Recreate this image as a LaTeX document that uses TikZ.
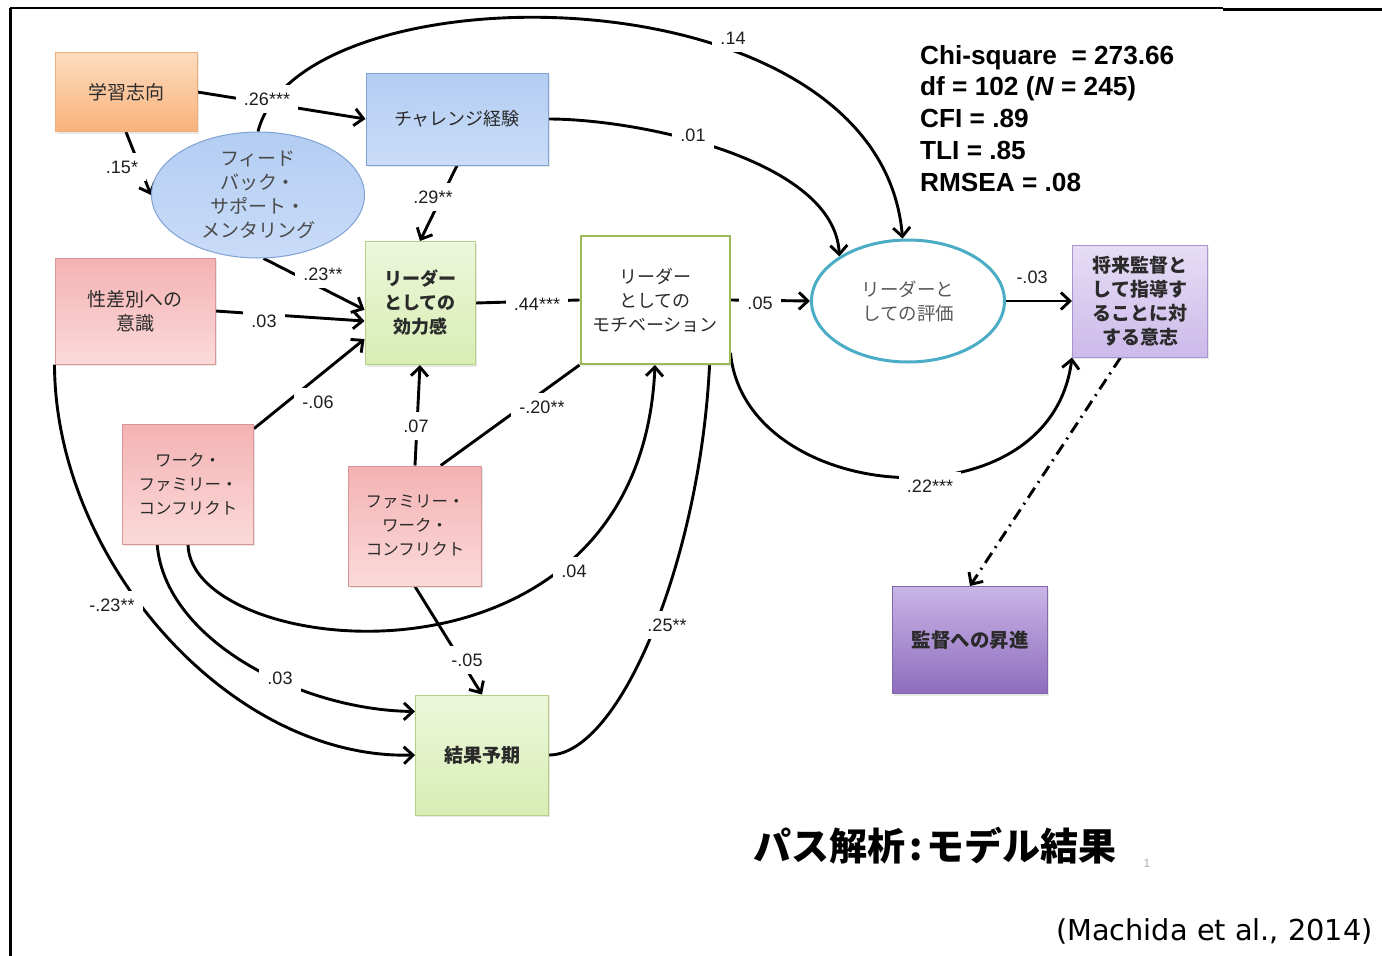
\documentclass[tikz,border=0pt]{standalone}
\usepackage{fontspec}
\setmainfont{Liberation Sans}
\newfontfamily\jpfont{Noto Sans CJK JP}
\newfontfamily\citefont{DejaVu Sans}
\usetikzlibrary{shapes.geometric,arrows.meta,backgrounds,shadows}

\definecolor{orangeT}{HTML}{FDDCBD}
\definecolor{orangeB}{HTML}{F8B27C}
\definecolor{orangeD}{HTML}{F0AE7A}
\definecolor{blueT}{HTML}{B3CDF2}
\definecolor{blueB}{HTML}{C9DCF8}
\definecolor{blueD}{HTML}{7FA2D4}
\definecolor{pinkT}{HTML}{F4B2B2}
\definecolor{pinkB}{HTML}{FBDADA}
\definecolor{pinkD}{HTML}{D99696}
\definecolor{greenT}{HTML}{EDF7DB}
\definecolor{greenB}{HTML}{D8EDB4}
\definecolor{greenD}{HTML}{B3CF88}
\definecolor{motD}{HTML}{9BBB59}
\definecolor{evalD}{HTML}{4BACC6}
\definecolor{lavT}{HTML}{E6DDF5}
\definecolor{lavB}{HTML}{CCBAEA}
\definecolor{lavD}{HTML}{A893CF}
\definecolor{purpT}{HTML}{C9B5E7}
\definecolor{purpB}{HTML}{8E6CBD}
\definecolor{purpD}{HTML}{8068AA}
\definecolor{textgray}{HTML}{2A2A2A}
\definecolor{coefgray}{HTML}{1E1E1E}
\definecolor{pagegray}{HTML}{B0B0B0}

\tikzset{
  jp/.style={font=\jpfont\fontsize{#1}{24}\selectfont},
  jpb/.style={font=\jpfont\bfseries\fontsize{#1}{24}\selectfont},
  boxsize/.style 2 args={minimum width=#1pt, minimum height=#2pt},
  box/.style={rectangle, draw, line width=1pt, align=center, inner sep=2pt,
    text=textgray, jp=19,
    drop shadow={shadow xshift=1.5pt, shadow yshift=-2pt, opacity=.18}},
  orangebox/.style={box, draw=orangeD, top color=orangeT, bottom color=orangeB},
  bluebox/.style={box, draw=blueD, top color=blueT, bottom color=blueB},
  pinkbox/.style={box, draw=pinkD, top color=pinkT, bottom color=pinkB},
  greenbox/.style={box, draw=greenD, top color=greenT, bottom color=greenB},
  lavbox/.style={box, draw=lavD, top color=lavT, bottom color=lavB},
  purplebox/.style={box, draw=purpD, top color=purpT, bottom color=purpB},
  motbox/.style={box, draw=motD, line width=2pt, fill=white, drop shadow={opacity=0}},
  fbell/.style={ellipse, draw=blueD, line width=1pt, top color=blueT, bottom color=blueB,
    minimum width=213pt, minimum height=126pt, inner sep=0pt, align=center,
    text=textgray!85, jp=19},
  evalell/.style={ellipse, draw=evalD, line width=3pt, fill=white,
    minimum width=193pt, minimum height=122pt, inner sep=0pt, align=center,
    text=black!65, jp=18.5},
  coef/.style={fill=white, inner sep=8pt, text=coefgray, font=\fontsize{18}{20}\selectfont},
  conn/.style={line width=2.9pt},
  dashdotline/.style={dash pattern=on 12pt off 6pt on 2pt off 6pt},
  >={Straight Barb[length=9pt,width=17pt]},
}

\begin{document}
\begin{tikzpicture}[x=1pt, y=1pt]
  \useasboundingbox (0,0) rectangle (1382,-956);
  % frame
  \draw[line width=3pt] (10,-956) -- (10,-8);
  \draw[line width=2pt] (10,-8) -- (1223,-8);
  \draw[line width=3pt] (1223,-9) -- (1382,-9);

  % variables
  \node[orangebox, boxsize={142}{79}] (learn) at (126,-92) {学習志向};
  \node[bluebox, boxsize={182}{92}, jp=18] (chal) at (457,-119) {チャレンジ経験};
  \node[fbell] (fb) at (258,-195) {フィード\\バック・\\サポート・\\メンタリング};
  \node[pinkbox, boxsize={160}{106}] (gen) at (135,-311) {性差別への\\意識};
  \node[greenbox, boxsize={110}{123}, jpb=18] (eff) at (420,-303) {リーダー\\としての\\効力感};
  \node[motbox, boxsize={149}{128}, jp=18] (mot) at (655,-300) {リーダー\\としての\\モチベーション};
  \node[evalell] (eval) at (908,-301) {リーダーと\\しての評価};
  \node[lavbox, boxsize={135}{112}, jpb=19] (will) at (1140,-301) {将来監督と\\して指導す\\ることに対\\する意志};
  \node[pinkbox, boxsize={131}{120}, jp=16.5] (wfc) at (188,-484) {ワーク・\\ファミリー・\\コンフリクト};
  \node[pinkbox, boxsize={133}{120}, jp=16.5] (fwc) at (415,-526) {ファミリー・\\ワーク・\\コンフリクト};
  \node[greenbox, boxsize={133}{120}, jpb=19] (res) at (482,-755) {結果予期};
  \node[purplebox, boxsize={155}{107}, jpb=19.5] (promo) at (970,-640) {監督への昇進};

  % coefficients
  \node[coef] (l26) at (267,-99) {.26***};
  \node[coef] (l15) at (122,-167) {.15*};
  \node[coef] (l14) at (733,-38) {.14};
  \node[coef] (l01) at (693,-135) {.01};
  \node[coef] (l29) at (433,-197) {.29**};
  \node[coef] (l23) at (323,-274) {.23**};
  \node[coef] (l03a) at (264,-321) {.03};
  \node[coef] (l44) at (537,-304) {.44***};
  \node[coef] (l05) at (760,-303) {.05};
  \node[coef] (l03c) at (1032,-277) {-.03};
  \node[coef] (l06) at (318,-402) {-.06};
  \node[coef] (l07) at (416,-426) {.07};
  \node[coef] (l20) at (542,-407) {-.20**};
  \node[coef] (l22) at (930,-486) {.22***};
  \node[coef] (l04) at (574,-571) {.04};
  \node[coef] (l23m) at (112,-605) {-.23**};
  \node[coef] (l25) at (667,-625) {.25**};
  \node[coef] (l05m) at (467,-660) {-.05};
  \node[coef] (l03b) at (280,-678) {.03};

  % fit indices, title, source
  \node[anchor=north west, align=left, inner sep=0pt,
    font=\bfseries\fontsize{26.2}{31.75}\selectfont] (fit) at (920,-45)
    {Chi-square\ \ = 273.66\\df = 102 (\textit{N} = 245)\\CFI = .89\\TLI = .85\\RMSEA = .08};
  \node[jpb=38] (title) at (935,-846) {パス解析\kern4pt:\kern4pt モデル結果};
  \node[text=pagegray, font=\fontsize{12}{12}\selectfont] (page) at (1147,-863) {1};
  \node[anchor=base east, inner sep=0pt, font=\citefont\fontsize{28.8}{30}\selectfont]
    (cite) at (1373,-940) {(Machida et al., 2014)};

  % paths
  \begin{scope}[on background layer]
    \path[conn]
      (learn.east) edge[->] (chal.west)
      (learn.south) edge[->] (fb.west)
      (chal.south) edge[->] (eff.north)
      (fb.-85) edge[->] (eff.187)
      (gen.east) edge[->] (eff.198)
      (wfc.40) edge[->] (eff.213)
      (fwc.north) edge[->] (eff.south)
      (fwc.67) edge (mot.south west)
      (eff.east) edge (mot.west)
      (mot.east) edge[->] (eval.west)
      (eval.east) edge[->] (will.west)
      (fwc.south) edge[->] (res.north);
    \draw[conn, ->] (fb.north) .. controls (300,35) and (880,35) .. (eval.95);
    \draw[conn, ->] (chal.east) .. controls (640,-119) and (835,-160) .. (eval.147);
    \draw[conn, ->] (mot.-35) .. controls (745,-505) and (1050,-530) .. (will.south west);
    \draw[conn, ->] (wfc.south) .. controls (190,-660) and (640,-710) .. (mot.south);
    \draw[conn, ->] (gen.south west) .. controls (55,-560) and (230,-760) .. (res.west);
    \draw[conn, ->] (wfc.243) .. controls (165,-640) and (300,-710) .. (res.147);
    \draw[conn] (res.east) .. controls (620,-755) and (700,-560) .. (mot.-50);
    \draw[conn, dashdotline, ->] (will.251) -- (promo.north);
  \end{scope}
\end{tikzpicture}
\end{document}
